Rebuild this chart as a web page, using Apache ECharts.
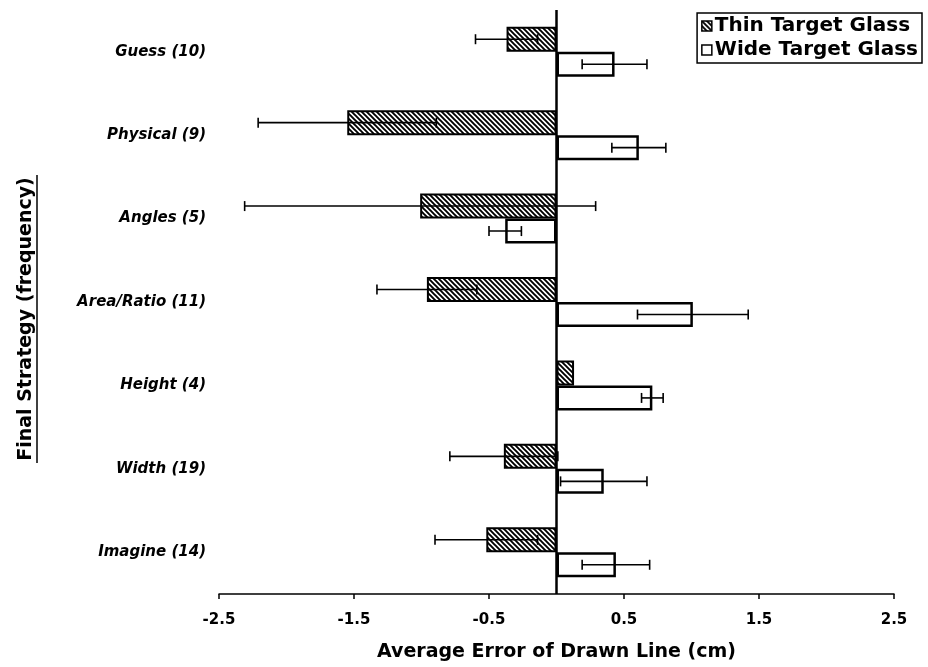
<!DOCTYPE html>
<html>
<head>
<meta charset="utf-8">
<script src="https://cdn.jsdelivr.net/npm/echarts@6/dist/echarts.min.js"></script>
<style>
html,body{margin:0;padding:0;background:#fff;}
#chart{width:928px;height:667px;}
</style>
</head>
<body>
<div id="chart"></div>
<script>
const categories = ['Guess (10)','Physical (9)','Angles (5)','Area/Ratio (11)','Height (4)','Width (19)','Imagine (14)'];
const thinValues = [-0.37,-1.55,-1.01,-0.96,0.13,-0.39,-0.52];
const thinErrors = [0.23,0.66,1.30,0.37,0,0.40,0.38];
const wideValues = [0.43,0.61,-0.38,1.01,0.71,0.35,0.44];
const wideErrors = [0.24,0.20,0.12,0.41,0.08,0.32,0.25];
const seriesNames = ['Thin Target Glass','Wide Target Glass'];
const xAxisTitle = 'Average Error of Drawn Line (cm)';
const yAxisTitle = 'Final Strategy (frequency)';

const FONT = '"DejaVu Sans", sans-serif';
const BAR_W = 25;

// hatch pattern
const pc = document.createElement('canvas');
pc.width = 5; pc.height = 5;
const g = pc.getContext('2d');
g.fillStyle = '#fff'; g.fillRect(0,0,5,5);
g.strokeStyle = '#000'; g.lineWidth = 1.9;
g.beginPath();
g.moveTo(-1,-1); g.lineTo(6,6);
g.moveTo(-1,4); g.lineTo(1,6);
g.moveTo(4,-1); g.lineTo(6,1);
g.stroke();
const hatch = {image: pc, repeat: 'repeat'};

function errRender(sign){
  return function(params, api){
    const v = api.value(0), e = api.value(1), c = api.value(2);
    if (!e) return null;
    const lo = api.coord([v - e, c]);
    const hi = api.coord([v + e, c]);
    const y = lo[1] + sign * BAR_W / 2;
    const cap = 5;
    const st = {stroke:'#000', lineWidth:1.6};
    return {type:'group', children:[
      {type:'line', shape:{x1:lo[0], y1:y, x2:hi[0], y2:y}, style:st},
      {type:'line', shape:{x1:lo[0], y1:y-cap, x2:lo[0], y2:y+cap}, style:st},
      {type:'line', shape:{x1:hi[0], y1:y-cap, x2:hi[0], y2:y+cap}, style:st}
    ]};
  };
}

const chart = echarts.init(document.getElementById('chart'), null, {renderer:'canvas'});
const titleW = 288, titleCY = 319;
chart.setOption({
  animation:false,
  backgroundColor:'#fff',
  grid:{left:219, right:34, top:10, bottom:69, containLabel:false},
  legend:{
    orient:'vertical', right:6, top:13,
    padding:[3,4,3,4], itemGap:4,
    itemWidth:10, itemHeight:10,
    borderColor:'#000', borderWidth:1.5,
    textStyle:{fontFamily:FONT, fontWeight:'bold', fontSize:20, color:'#000', padding:[0,0,0,-2]},
    data:[
      {name:seriesNames[0], icon:'rect', itemStyle:{color:hatch, borderColor:'#000', borderWidth:1.5}},
      {name:seriesNames[1], icon:'rect', itemStyle:{color:'#fff', borderColor:'#000', borderWidth:1.5}}
    ]
  },
  xAxis:{
    type:'value', min:-2.5, max:2.5, interval:1,
    splitLine:{show:false},
    axisLine:{show:true, onZero:false, lineStyle:{color:'#000', width:1.5}},
    axisTick:{show:true, length:5, lineStyle:{color:'#000', width:1.5}},
    axisLabel:{fontFamily:FONT, fontWeight:'bold', fontSize:15, color:'#000', margin:19},
    name:xAxisTitle, nameLocation:'middle', nameGap:49,
    nameTextStyle:{fontFamily:FONT, fontWeight:'bold', fontSize:19, color:'#000'}
  },
  yAxis:{
    type:'category', data:categories, inverse:true,
    axisLine:{show:false, onZero:false},
    axisTick:{show:false},
    splitLine:{show:false},
    axisLabel:{fontFamily:FONT, fontWeight:'bold', fontStyle:'italic', fontSize:15, color:'#000', margin:13}
  },
  graphic:[
    {type:'text', x:26, y:titleCY, rotation:Math.PI/2,
     style:{text:yAxisTitle, font:'bold 19px "DejaVu Sans", sans-serif', fill:'#000', align:'center', verticalAlign:'middle'}},
    {type:'line', shape:{x1:37, y1:titleCY - titleW/2, x2:37, y2:titleCY + titleW/2}, style:{stroke:'#000', lineWidth:1.5}}
  ],
  series:[
    {
      name:seriesNames[0], type:'bar', data:thinValues,
      barWidth:BAR_W, barGap:'0%',
      itemStyle:{color:hatch, borderColor:'#000', borderWidth:2},
      markLine:{
        silent:true, symbol:['none','none'],
        label:{show:false},
        lineStyle:{color:'#000', width:2.5, type:'solid'},
        data:[{xAxis:0}]
      }
    },
    {
      name:seriesNames[1], type:'bar', data:wideValues,
      barWidth:BAR_W, barGap:'0%',
      itemStyle:{color:'#fff', borderColor:'#000', borderWidth:2.5}
    },
    {
      type:'custom', renderItem:errRender(-1), z:10,
      encode:{x:0, y:2},
      data:thinValues.map((v,i)=>[v, thinErrors[i], i])
    },
    {
      type:'custom', renderItem:errRender(1), z:10,
      encode:{x:0, y:2},
      data:wideValues.map((v,i)=>[v, wideErrors[i], i])
    }
  ]
});
</script>
</body>
</html>
